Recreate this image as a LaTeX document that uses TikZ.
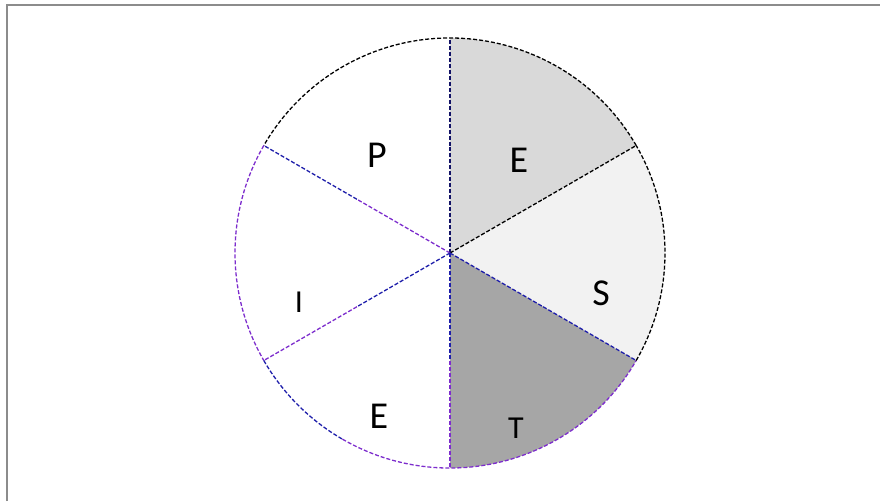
\documentclass[tikz,border=0pt]{standalone}
\usepackage{fontspec}
\setmainfont{Carlito}
\usepackage{xcolor}
\usepackage{tikz}
\definecolor{pieE}{RGB}{217,217,217}
\definecolor{pieS}{RGB}{242,242,242}
\definecolor{pieT}{RGB}{166,166,166}
\definecolor{lnblue}{RGB}{30,30,170}
\definecolor{lnpurple}{RGB}{125,45,205}
\definecolor{frame}{RGB}{140,140,140}
\usetikzlibrary{positioning}

\begin{document}
\begin{tikzpicture}[x=1pt, y=-1pt,
    edge/.style={dash pattern=on 4pt off 2pt, line width=1.3pt},
    every node/.style={font=\fontsize{38}{40}\selectfont, inner sep=0pt}]

  \useasboundingbox (0,0) rectangle (880,501);

  % Frame (top and left edges only)
  \draw[frame, line width=2pt] (6.5,501) -- (6.5,4.5) -- (880,4.5);

  \coordinate (O) at (450,253);

  % Shaded sectors
  \fill[pieE] (O) -- ++(90:-215) arc[start angle=-90, end angle=-30, radius=215] -- cycle;
  \fill[pieS] (O) -- ++(-30:215) arc[start angle=-30, end angle=30, radius=215] -- cycle;
  \fill[pieT] (O) -- ++(90:215) arc[start angle=90, end angle=30, radius=215] -- cycle;

  % Rim
  \draw[edge, black]    (O) ++(-30:215) arc[start angle=-30, end angle=-150, radius=215];
  \draw[edge, lnpurple] (O) ++(-150:215) arc[start angle=-150, end angle=-210, radius=215];
  \draw[edge, lnblue]   (O) ++(-210:215) arc[start angle=-210, end angle=-240, radius=215];
  \draw[edge, lnpurple] (O) ++(-240:215) arc[start angle=-240, end angle=-330, radius=215];
  \draw[edge, black]    (O) ++(-330:215) arc[start angle=-330, end angle=-390, radius=215];

  % Spokes (inner half / outer half)
  \foreach \a/\c/\d in {-90/lnblue!60!black/lnblue!60!black, -30/black/black, 30/lnblue/lnblue,
                        90/lnblue/lnpurple, -150/lnpurple/lnblue, -210/lnblue/lnpurple}
  {
    \draw[edge, \c] (O) -- ++(\a:107.5);
    \draw[edge, \d] (O) ++(\a:107.5) -- ++(\a:107.5);
  }

  % Labels
  \node (P)  at (377,155) {P};
  \node (E1) at (519,160) {E};
  \node (S)  at (601,293) {S};
  \node[font=\fontsize{32}{34}\selectfont] (T)  at (516,428) {T};
  \node (E2) at (379,416) {E};
  \node[font=\fontsize{32}{34}\selectfont] (I)  at (299,302) {I};

\end{tikzpicture}
\end{document}
